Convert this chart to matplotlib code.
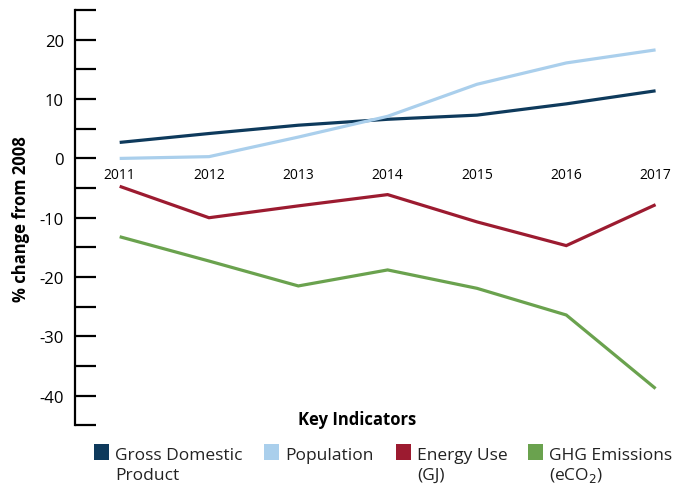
import matplotlib
matplotlib.use("Agg")
import matplotlib.pyplot as plt
from matplotlib.patches import Rectangle

YEARS = [2011, 2012, 2013, 2014, 2015, 2016, 2017]
GDP = [2.7, 4.2, 5.6, 6.6, 7.3, 9.2, 11.4]
POPULATION = [0.0, 0.3, 3.6, 7.1, 12.5, 16.1, 18.3]
ENERGY = [-4.7, -10.0, -8.0, -6.1, -10.7, -14.7, -7.8]
GHG = [-13.2, -17.3, -21.5, -18.8, -21.9, -26.4, -38.8]

SERIES = [
    ("Gross Domestic\nProduct", GDP, "#0e3a5c"),
    ("Population", POPULATION, "#aacfec"),
    ("Energy Use\n(GJ)", ENERGY, "#9c1b30"),
    ("GHG Emissions\n(eCO$_2$)", GHG, "#6aa24e"),
]

YTICKS_MAJOR = [-40, -30, -20, -10, 0, 10, 20]
YTICKS_MINOR = [-45, -35, -25, -15, -5, 5, 15, 25]

plt.rcParams.update({"font.family": "Open Sans", "axes.unicode_minus": False})

W, H = 682, 485
fig = plt.figure(figsize=(W / 100, H / 100), dpi=100)
ax = fig.add_axes([0.110, 0.121, 0.884, 0.856])

for label, vals, color in SERIES:
    ax.plot(YEARS, vals, color=color, lw=2.3, solid_capstyle="butt",
            solid_joinstyle="miter", label=label)

ax.set_xlim(2010.5, 2017.25)
ax.set_ylim(-45, 25)

for s in ("top", "right"):
    ax.spines[s].set_visible(False)
ax.spines["left"].set_linewidth(1.6)
# year labels sit on the zero line
ax.spines["bottom"].set_position(("data", 0))
ax.spines["bottom"].set_visible(False)

ax.set_yticks(YTICKS_MAJOR)
ax.set_yticks(YTICKS_MINOR, minor=True)
ax.tick_params(axis="y", which="both", direction="in", length=15,
               width=1.6, labelsize=12, pad=8)
ax.set_xticks(YEARS)
ax.set_xticklabels([str(y) for y in YEARS])
ax.tick_params(axis="x", length=0, labelsize=10, pad=6)

ax.set_ylabel("% change from 2008", fontsize=12, fontweight="bold")
ax.yaxis.set_label_coords(-0.075, 0.5)

fig.text(0.523, 1 - 420 / H, "Key Indicators", ha="center", va="center",
         fontsize=12, fontweight="bold")

# hand-placed legend: square swatch level with the first text line
patch_x = [94, 264, 396, 528]
for (label, _, color), px in zip(SERIES, patch_x):
    fig.add_artist(Rectangle((px / W, 1 - 461 / H), 15 / W, 16 / H,
                             facecolor=color, edgecolor="none",
                             transform=fig.transFigure))
    for i, line in enumerate(label.split("\n")):
        fig.text((px + 21) / W, 1 - (460 + 20 * i) / H, line,
                 ha="left", va="baseline", fontsize=12.5, color="#222222")

fig.savefig("out.png", dpi=100)
